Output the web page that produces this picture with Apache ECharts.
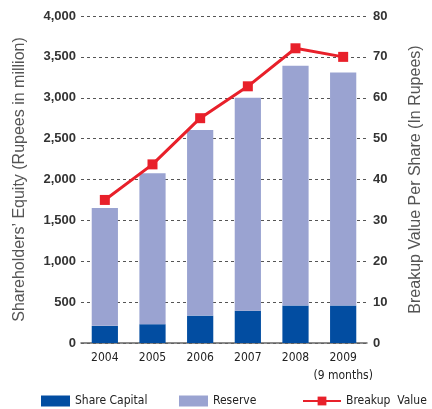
<!DOCTYPE html>
<html lang="en">
<head>
    <meta charset="UTF-8">
    <title>Shareholders' Equity</title>
    <script src="https://cdn.jsdelivr.net/npm/echarts@6/dist/echarts.min.js"></script>
    <style>
        body { margin: 0; background: #fff; }
        #main { width: 432px; height: 409px; }
    </style>
</head>
<body>
<div id="main"></div>
<script>
    // data
    var years = ['2004', '2005', '2006', '2007', '2008', '2009\n(9 months)'];
    var shareCapital = [210, 230, 335, 395, 460, 460];
    var reserve = [1440, 1845, 2270, 2605, 2930, 2850];
    var breakupValue = [35, 43.7, 55, 62.8, 72.1, 70];

    var narrow = '"DejaVu Sans Condensed", "Liberation Sans Narrow", sans-serif';
    var tickStyle = { color: '#333', fontSize: 13, fontWeight: 'bold', fontFamily: 'Liberation Sans, Arial, sans-serif' };
    var gridLine = { show: true, lineStyle: { type: [3, 3], color: '#555', width: 1 } };
    var legendText = { fontFamily: narrow, fontSize: 12, color: '#222' };

    var chart = echarts.init(document.getElementById('main'));

    var option = {
        animation: false,
        grid: { left: 81, right: 54, top: 16, bottom: 66 },
        legend: [
            {
                left: 41, top: 395, padding: 0, itemWidth: 29, itemHeight: 11, icon: 'rect',
                textStyle: legendText, data: ['Share Capital']
            },
            {
                left: 179, top: 395, padding: 0, itemWidth: 29, itemHeight: 11, icon: 'rect',
                textStyle: legendText, data: ['Reserve']
            },
            {
                left: 302, top: 395, padding: 0, itemWidth: 38, itemHeight: 11,
                textStyle: legendText, data: ['Breakup  Value']
            }
        ],
        xAxis: {
            type: 'category',
            data: years,
            axisTick: { show: false },
            axisLine: { lineStyle: { color: '#666', width: 1.5 } },
            axisLabel: { interval: 0, color: '#222', fontFamily: narrow, fontSize: 12, margin: 6, lineHeight: 18 }
        },
        yAxis: [
            {
                type: 'value', min: 0, max: 4000, interval: 500,
                name: 'Shareholders\u2019 Equity (Rupees in million)',
                nameLocation: 'middle', nameRotate: 90, nameGap: 53,
                nameTextStyle: { color: '#555', fontSize: 16, fontFamily: 'Liberation Sans, Arial, sans-serif' },
                axisLine: { show: false }, axisTick: { show: false },
                axisLabel: {
                    ...tickStyle, margin: 5,
                    formatter: function (v) { return v.toLocaleString('en-US'); }
                },
                splitLine: gridLine
            },
            {
                type: 'value', min: 0, max: 80, interval: 10,
                name: 'Breakup Value Per Share (In Rupees)',
                nameLocation: 'middle', nameRotate: 90, nameGap: 41,
                nameTextStyle: { color: '#555', fontSize: 16, fontFamily: 'Liberation Sans, Arial, sans-serif' },
                axisLine: { show: false }, axisTick: { show: false },
                axisLabel: { ...tickStyle, margin: 6 },
                splitLine: { show: false }
            }
        ],
        series: [
            {
                name: 'Share Capital', type: 'bar', stack: 'eq', barWidth: '55%',
                itemStyle: { color: '#024DA1' },
                data: shareCapital
            },
            {
                name: 'Reserve', type: 'bar', stack: 'eq',
                itemStyle: { color: '#9AA3D1' },
                data: reserve
            },
            {
                name: 'Breakup  Value', type: 'line', yAxisIndex: 1,
                symbol: 'rect', symbolSize: 10,
                lineStyle: { color: '#E8202A', width: 3 },
                itemStyle: { color: '#E8202A' },
                data: breakupValue
            }
        ]
    };

    chart.setOption(option);
</script>
</body>
</html>
